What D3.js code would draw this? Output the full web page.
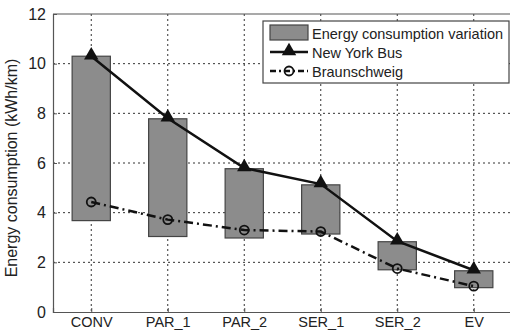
<!DOCTYPE html>
<html><head><meta charset="utf-8">
<script src="https://cdn.jsdelivr.net/npm/d3@7/dist/d3.min.js"></script>
<style>body{margin:0;background:#fff}svg{display:block}</style>
</head><body>
<svg id="c" width="510" height="330"></svg>
<script>
const categories = ["CONV","PAR_1","PAR_2","SER_1","SER_2","EV"];
const barLow  = [3.68, 3.04, 2.98, 3.14, 1.70, 0.98];
const barHigh = [10.3, 7.78, 5.77, 5.12, 2.83, 1.66];
const newYork = [10.3, 7.8, 5.8, 5.15, 2.85, 1.68];
const braunschweig = [4.43, 3.72, 3.3, 3.24, 1.75, 1.04];
const yTicks = [0,2,4,6,8,10,12];
const legendLabels = ["Energy consumption variation","New York Bus","Braunschweig"];

const svg = d3.select("#c");
const font = "Liberation Sans, Arial, sans-serif";
const L = 53, R = 512, T = 14, B = 312;
const x = d3.scaleLinear().domain([0.5, 6.5]).range([L, R]);
const y = d3.scaleLinear().domain([0, 12]).range([B, T]);
const idx = categories.map((d,i)=>i+1);
const step = x(2)-x(1);
const bw = step/2;

// grid
const g = svg.append("g");
g.selectAll("line.gy").data(yTicks.slice(1,-1)).join("line")
  .attr("x1", L).attr("x2", R).attr("y1", d=>y(d)).attr("y2", d=>y(d))
  .attr("stroke", "#333").attr("stroke-width", 1).attr("stroke-dasharray", "2,3");
g.selectAll("line.gx").data(idx).join("line")
  .attr("y1", T).attr("y2", B).attr("x1", d=>x(d)).attr("x2", d=>x(d))
  .attr("stroke", "#333").attr("stroke-width", 1).attr("stroke-dasharray", "2,3");

// axes
const ya = svg.append("g").attr("transform", `translate(${L},0)`)
  .call(d3.axisLeft(y).tickValues(yTicks).tickSize(-4).tickPadding(7));
ya.selectAll("text").attr("font-family", font).attr("font-size", 16).attr("fill","#222");
ya.selectAll("line").attr("stroke","#555");
ya.select(".domain").attr("stroke","#555").attr("stroke-width",1.2);
const xa = svg.append("g").attr("transform", `translate(0,${B})`)
  .call(d3.axisBottom(x).tickValues(idx).tickFormat(d=>categories[d-1]).tickSize(-4));
xa.selectAll("text").attr("font-family", font).attr("font-size", 14.5).attr("fill","#222")
  .attr("dy", null).attr("y", 14.5);
xa.selectAll("line").attr("stroke","#555");
xa.select(".domain").attr("stroke","#555").attr("stroke-width",1.2);
svg.append("line").attr("x1",L).attr("x2",R).attr("y1",T).attr("y2",T).attr("stroke","#555").attr("stroke-width",1.2);

// y label
svg.append("text").attr("transform", `translate(17,${(T+B)/2 + 5}) rotate(-90)`)
  .attr("text-anchor","middle").attr("font-family", font).attr("font-size", 16).attr("fill","#222")
  .text("Energy consumption (kWh/km)");

// bars
svg.append("g").selectAll("rect").data(idx).join("rect")
  .attr("x", d=>x(d)-bw/2).attr("width", bw)
  .attr("y", (d,i)=>y(barHigh[i])).attr("height", (d,i)=>y(barLow[i])-y(barHigh[i]))
  .attr("fill","#8c8c8c").attr("stroke","#444").attr("stroke-width",1.2);

// lines
const line = d3.line().x(d=>x(d[0])).y(d=>y(d[1]));
svg.append("path").datum(idx.map((d,i)=>[d, braunschweig[i]])).attr("d", line)
  .attr("fill","none").attr("stroke","#111").attr("stroke-width",2.5).attr("stroke-dasharray","9,4,2,4");
svg.append("path").datum(idx.map((d,i)=>[d, newYork[i]])).attr("d", line)
  .attr("fill","none").attr("stroke","#111").attr("stroke-width",2.5);

const tri = d3.symbol().type(d3.symbolTriangle).size(90);
svg.append("g").selectAll("path").data(idx).join("path")
  .attr("d", tri).attr("transform", (d,i)=>`translate(${x(d)},${y(newYork[i])-1})`).attr("fill","#111");
svg.append("g").selectAll("circle").data(idx).join("circle")
  .attr("cx", d=>x(d)).attr("cy", (d,i)=>y(braunschweig[i])).attr("r", 4.5)
  .attr("fill","none").attr("stroke","#111").attr("stroke-width",1.8);

// legend
const lg = svg.append("g");
lg.append("rect").attr("x",263).attr("y",21).attr("width",246).attr("height",62)
  .attr("fill","#fff").attr("stroke","#444").attr("stroke-width",1.2);
const rows = [33, 52, 71];
lg.append("rect").attr("x",270).attr("y",25).attr("width",38).attr("height",15)
  .attr("fill","#8c8c8c").attr("stroke","#444").attr("stroke-width",1.2);
lg.append("line").attr("x1",270).attr("x2",308).attr("y1",rows[1]).attr("y2",rows[1])
  .attr("stroke","#111").attr("stroke-width",2.5);
lg.append("path").attr("d", tri).attr("transform",`translate(289,${rows[1]-1})`).attr("fill","#111");
lg.append("line").attr("x1",270).attr("x2",308).attr("y1",rows[2]).attr("y2",rows[2])
  .attr("stroke","#111").attr("stroke-width",2.5).attr("stroke-dasharray","6,3,2,3");
lg.append("circle").attr("cx",289).attr("cy",rows[2]).attr("r",4.5).attr("fill","none").attr("stroke","#111").attr("stroke-width",1.8);
lg.selectAll("text").data(legendLabels).join("text")
  .attr("x",312).attr("y",(d,i)=>rows[i]+5.5)
  .attr("font-family", font).attr("font-size", 14.5).attr("fill","#222").text(d=>d);
</script>
</body></html>
